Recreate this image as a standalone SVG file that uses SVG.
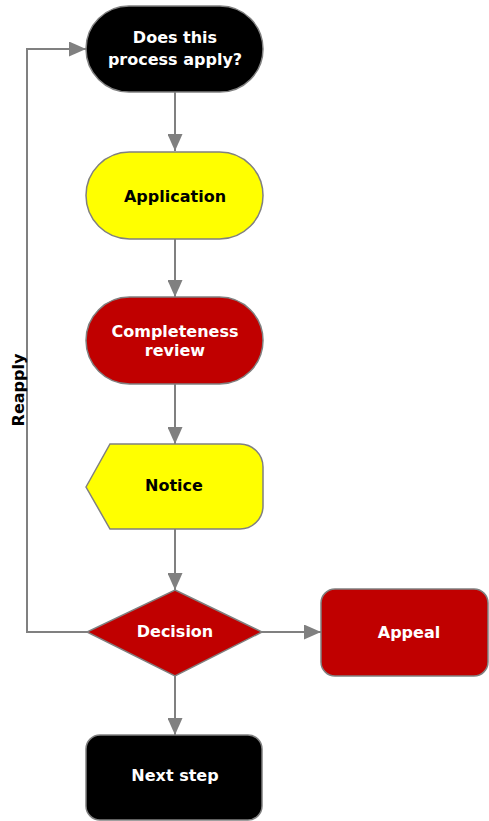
<svg xmlns="http://www.w3.org/2000/svg" width="489" height="821" viewBox="0 0 489 821">
<defs>
<style>
.node{stroke:#808080;stroke-width:1.5}
.blk{fill:#000000}
.yel{fill:#ffff00}
.red{fill:#c00000}
.lbl{font-family:"DejaVu Sans",Verdana,sans-serif;font-weight:bold;font-size:16px;text-anchor:middle}
.w{fill:#ffffff}
.k{fill:#000000}
.conn{fill:none;stroke:#808080;stroke-width:2}
</style>
<marker id="arr" viewBox="0 0 17 15" refX="17" refY="7.5" markerWidth="17" markerHeight="15" markerUnits="userSpaceOnUse" orient="auto">
<path d="M0,0 L17,7.5 L0,15 Z" fill="#808080"/>
</marker>
</defs>
<rect width="489" height="821" fill="#ffffff"/>
<g id="connectors">
<path class="conn" d="M175,92 V151" marker-end="url(#arr)"/>
<path class="conn" d="M175,239 V297" marker-end="url(#arr)"/>
<path class="conn" d="M175,384 V444" marker-end="url(#arr)"/>
<path class="conn" d="M175,529 V590" marker-end="url(#arr)"/>
<path class="conn" d="M262,632 H321" marker-end="url(#arr)"/>
<path class="conn" d="M175,676 V735" marker-end="url(#arr)"/>
<path class="conn" d="M87,632 H27 V49 H86" marker-end="url(#arr)"/>
<text class="lbl k" transform="translate(24,390) rotate(-90)">Reapply</text>
</g>
<g id="node-apply">
<rect class="node blk" x="86" y="6" width="177" height="86" rx="43"/>
<text class="lbl w" x="175" y="43">Does this</text>
<text class="lbl w" x="175" y="65">process apply?</text>
</g>
<g id="node-application">
<rect class="node yel" x="86" y="152" width="177" height="87" rx="43.5"/>
<text class="lbl k" x="175" y="202">Application</text>
</g>
<g id="node-review">
<rect class="node red" x="86" y="297" width="177" height="87" rx="43.5"/>
<text class="lbl w" x="175" y="337">Completeness</text>
<text class="lbl w" x="175" y="356">review</text>
</g>
<g id="node-notice">
<path class="node yel" d="M86,487 L110,444 H240 A23,23 0 0 1 263,467 V506 A23,23 0 0 1 240,529 H110 Z"/>
<text class="lbl k" x="174" y="491">Notice</text>
</g>
<g id="node-decision">
<path class="node red" d="M175,590 L262,632 L175,676 L87,632 Z"/>
<text class="lbl w" x="175" y="637">Decision</text>
</g>
<g id="node-appeal">
<rect class="node red" x="321" y="589" width="167" height="87" rx="14"/>
<text class="lbl w" x="409" y="638">Appeal</text>
</g>
<g id="node-next">
<rect class="node blk" x="86" y="735" width="176" height="85" rx="14"/>
<text class="lbl w" x="175" y="781">Next step</text>
</g>
</svg>
